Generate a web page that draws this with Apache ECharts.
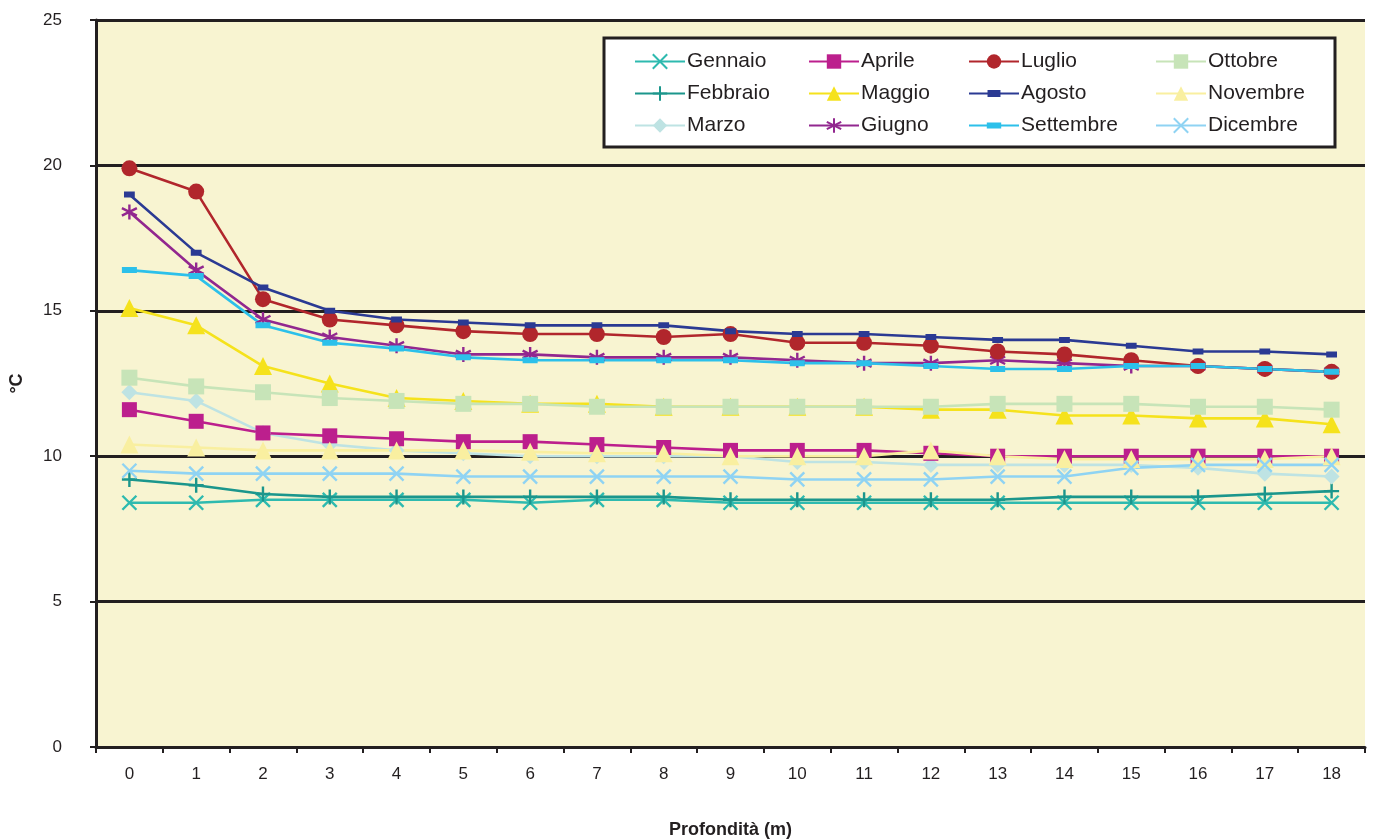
<!DOCTYPE html>
<html><head><meta charset="utf-8">
<script src="https://cdn.jsdelivr.net/npm/echarts@6/dist/echarts.min.js"></script>
<style>html,body{margin:0;padding:0;background:#fff}#c{width:1374px;height:839px}</style>
</head><body><div id="c"></div>
<script>
const depths = ['0','1','2','3','4','5','6','7','8','9','10','11','12','13','14','15','16','17','18'];
const yTicks = [0,5,10,15,20,25];
const gennaio   = [8.4,8.4,8.5,8.5,8.5,8.5,8.4,8.5,8.5,8.4,8.4,8.4,8.4,8.4,8.4,8.4,8.4,8.4,8.4];
const febbraio  = [9.2,9.0,8.7,8.6,8.6,8.6,8.6,8.6,8.6,8.5,8.5,8.5,8.5,8.5,8.6,8.6,8.6,8.7,8.8];
const marzo     = [12.2,11.9,10.8,10.4,10.2,10.1,10.0,10.0,10.0,10.0,9.8,9.8,9.7,9.7,9.7,9.7,9.6,9.4,9.3];
const aprile    = [11.6,11.2,10.8,10.7,10.6,10.5,10.5,10.4,10.3,10.2,10.2,10.2,10.1,10.0,10.0,10.0,10.0,10.0,10.0];
const maggio    = [15.1,14.5,13.1,12.5,12.0,11.9,11.8,11.8,11.7,11.7,11.7,11.7,11.6,11.6,11.4,11.4,11.3,11.3,11.1];
const giugno    = [18.4,16.4,14.7,14.1,13.8,13.5,13.5,13.4,13.4,13.4,13.3,13.2,13.2,13.3,13.2,13.1,13.1,13.0,12.9];
const luglio    = [19.9,19.1,15.4,14.7,14.5,14.3,14.2,14.2,14.1,14.2,13.9,13.9,13.8,13.6,13.5,13.3,13.1,13.0,12.9];
const agosto    = [19.0,17.0,15.8,15.0,14.7,14.6,14.5,14.5,14.5,14.3,14.2,14.2,14.1,14.0,14.0,13.8,13.6,13.6,13.5];
const settembre = [16.4,16.2,14.5,13.9,13.7,13.4,13.3,13.3,13.3,13.3,13.2,13.2,13.1,13.0,13.0,13.1,13.1,13.0,12.9];
const ottobre   = [12.7,12.4,12.2,12.0,11.9,11.8,11.8,11.7,11.7,11.7,11.7,11.7,11.7,11.8,11.8,11.8,11.7,11.7,11.6];
const novembre  = [10.4,10.3,10.2,10.2,10.2,10.2,10.15,10.1,10.1,10.0,10.0,10.0,10.2,10.0,9.9,9.9,9.9,9.9,10.0];
const dicembre  = [9.5,9.4,9.4,9.4,9.4,9.3,9.3,9.3,9.3,9.3,9.2,9.2,9.2,9.3,9.3,9.6,9.7,9.7,9.7];

const seriesNames = ['Gennaio','Febbraio','Marzo','Aprile','Maggio','Giugno','Luglio','Agosto','Settembre','Ottobre','Novembre','Dicembre'];
const seriesData = [gennaio,febbraio,marzo,aprile,maggio,giugno,luglio,agosto,settembre,ottobre,novembre,dicembre];

const X = 'path://M0 0L10 10M0 10L10 0';
const PLUS = 'path://M5 0L5 10M0 5L10 5';
const STAR = 'path://M5 0L5 10M0.7 2.5L9.3 7.5M0.7 7.5L9.3 2.5';
const DASH_A = 'path://M0 0L0.01 0M10 10L9.99 10M0.5 2.5L9.5 2.5L9.5 7.5L0.5 7.5Z';
const DASH_S = 'path://M0 0L0.01 0M10 10L9.99 10M0 3L10 3L10 7L0 7Z';
const styles = [
  {c:'#2EBAAF', s:X, z:14, stroke:true},
  {c:'#1B968C', s:PLUS, z:15, stroke:true},
  {c:'#BEE3E3', s:'diamond', z:16},
  {c:'#BC1F8D', s:'rect', z:15},
  {c:'#F5E21C', s:'triangle', z:18},
  {c:'#92278F', s:STAR, z:15, stroke:true},
  {c:'#B1262C', s:'circle', z:16},
  {c:'#2B3A93', s:DASH_A, z:12},
  {c:'#2CC0EA', s:DASH_S, z:15},
  {c:'#C7E4B8', s:'rect', z:16},
  {c:'#F9EFA0', s:'triangle', z:18},
  {c:'#8FD3F3', s:X, z:14, stroke:true}
];
const ink = '#231F20';
const font = 'Liberation Sans';

const series = seriesNames.map((n,i)=>({
  name:n, type:'line', data:seriesData[i],
  symbol:styles[i].s, symbolSize:styles[i].z, showSymbol:true,
  lineStyle:{color:styles[i].c, width:2.6},
  itemStyle:{color:styles[i].c, borderColor:styles[i].c, borderWidth:styles[i].stroke?2.4:0, opacity:1},
  emphasis:{disabled:true}, animation:false
}));

const legendCols = [629, 803, 963, 1150];
const legends = legendCols.map((x,k)=>({
  orient:'vertical', left:x, top:46, itemWidth:50, itemHeight:18, itemGap:11,
  data:seriesNames.slice(k*3,k*3+3).map(n=>{const i=seriesNames.indexOf(n); return {name:n, itemStyle:{borderWidth:styles[i].stroke?2:0, borderColor:styles[i].c}}; }),
  selectedMode:false,
  textStyle:{fontFamily:font, fontSize:21, color:ink, padding:[0,0,0,-3]}
}));

const chart = echarts.init(document.getElementById('c'), null, {renderer:'canvas'});
chart.setOption({
  backgroundColor:'#ffffff',
  animation:false,
  textStyle:{fontFamily:font},
  graphic:[{type:'rect', shape:{x:604, y:38, width:731, height:109}, style:{fill:'#fff', stroke:ink, lineWidth:3}, z:3}],
  legend:legends,
  grid:{left:96, right:9, top:20, bottom:92, show:true, backgroundColor:'#F8F4D1', borderWidth:0, containLabel:false, outerBoundsMode:'none'},
  xAxis:{type:'category', data:depths, boundaryGap:true,
    name:'Profondità (m)', nameLocation:'middle', nameGap:74,
    nameTextStyle:{fontFamily:font, fontSize:18, fontWeight:'bold', color:ink},
    axisLine:{lineStyle:{color:ink, width:3}},
    axisTick:{show:true, length:6, lineStyle:{color:ink, width:2}},
    axisLabel:{fontFamily:font, fontSize:17, color:ink, margin:19},
    splitLine:{show:false}},
  yAxis:{type:'value', min:0, max:25, interval:5,
    name:'°C', nameLocation:'middle', nameGap:70, nameRotate:90,
    nameTextStyle:{fontFamily:font, fontSize:18, fontWeight:'bold', color:ink},
    axisLine:{show:true, lineStyle:{color:ink, width:3}},
    axisTick:{show:true, length:6, lineStyle:{color:ink, width:2}},
    axisLabel:{fontFamily:font, fontSize:17, color:ink, margin:34,
      formatter:v=>yTicks.includes(v)?String(v):''},
    splitLine:{show:true, lineStyle:{color:ink, width:3}}},
  series:series
});
</script></body></html>
